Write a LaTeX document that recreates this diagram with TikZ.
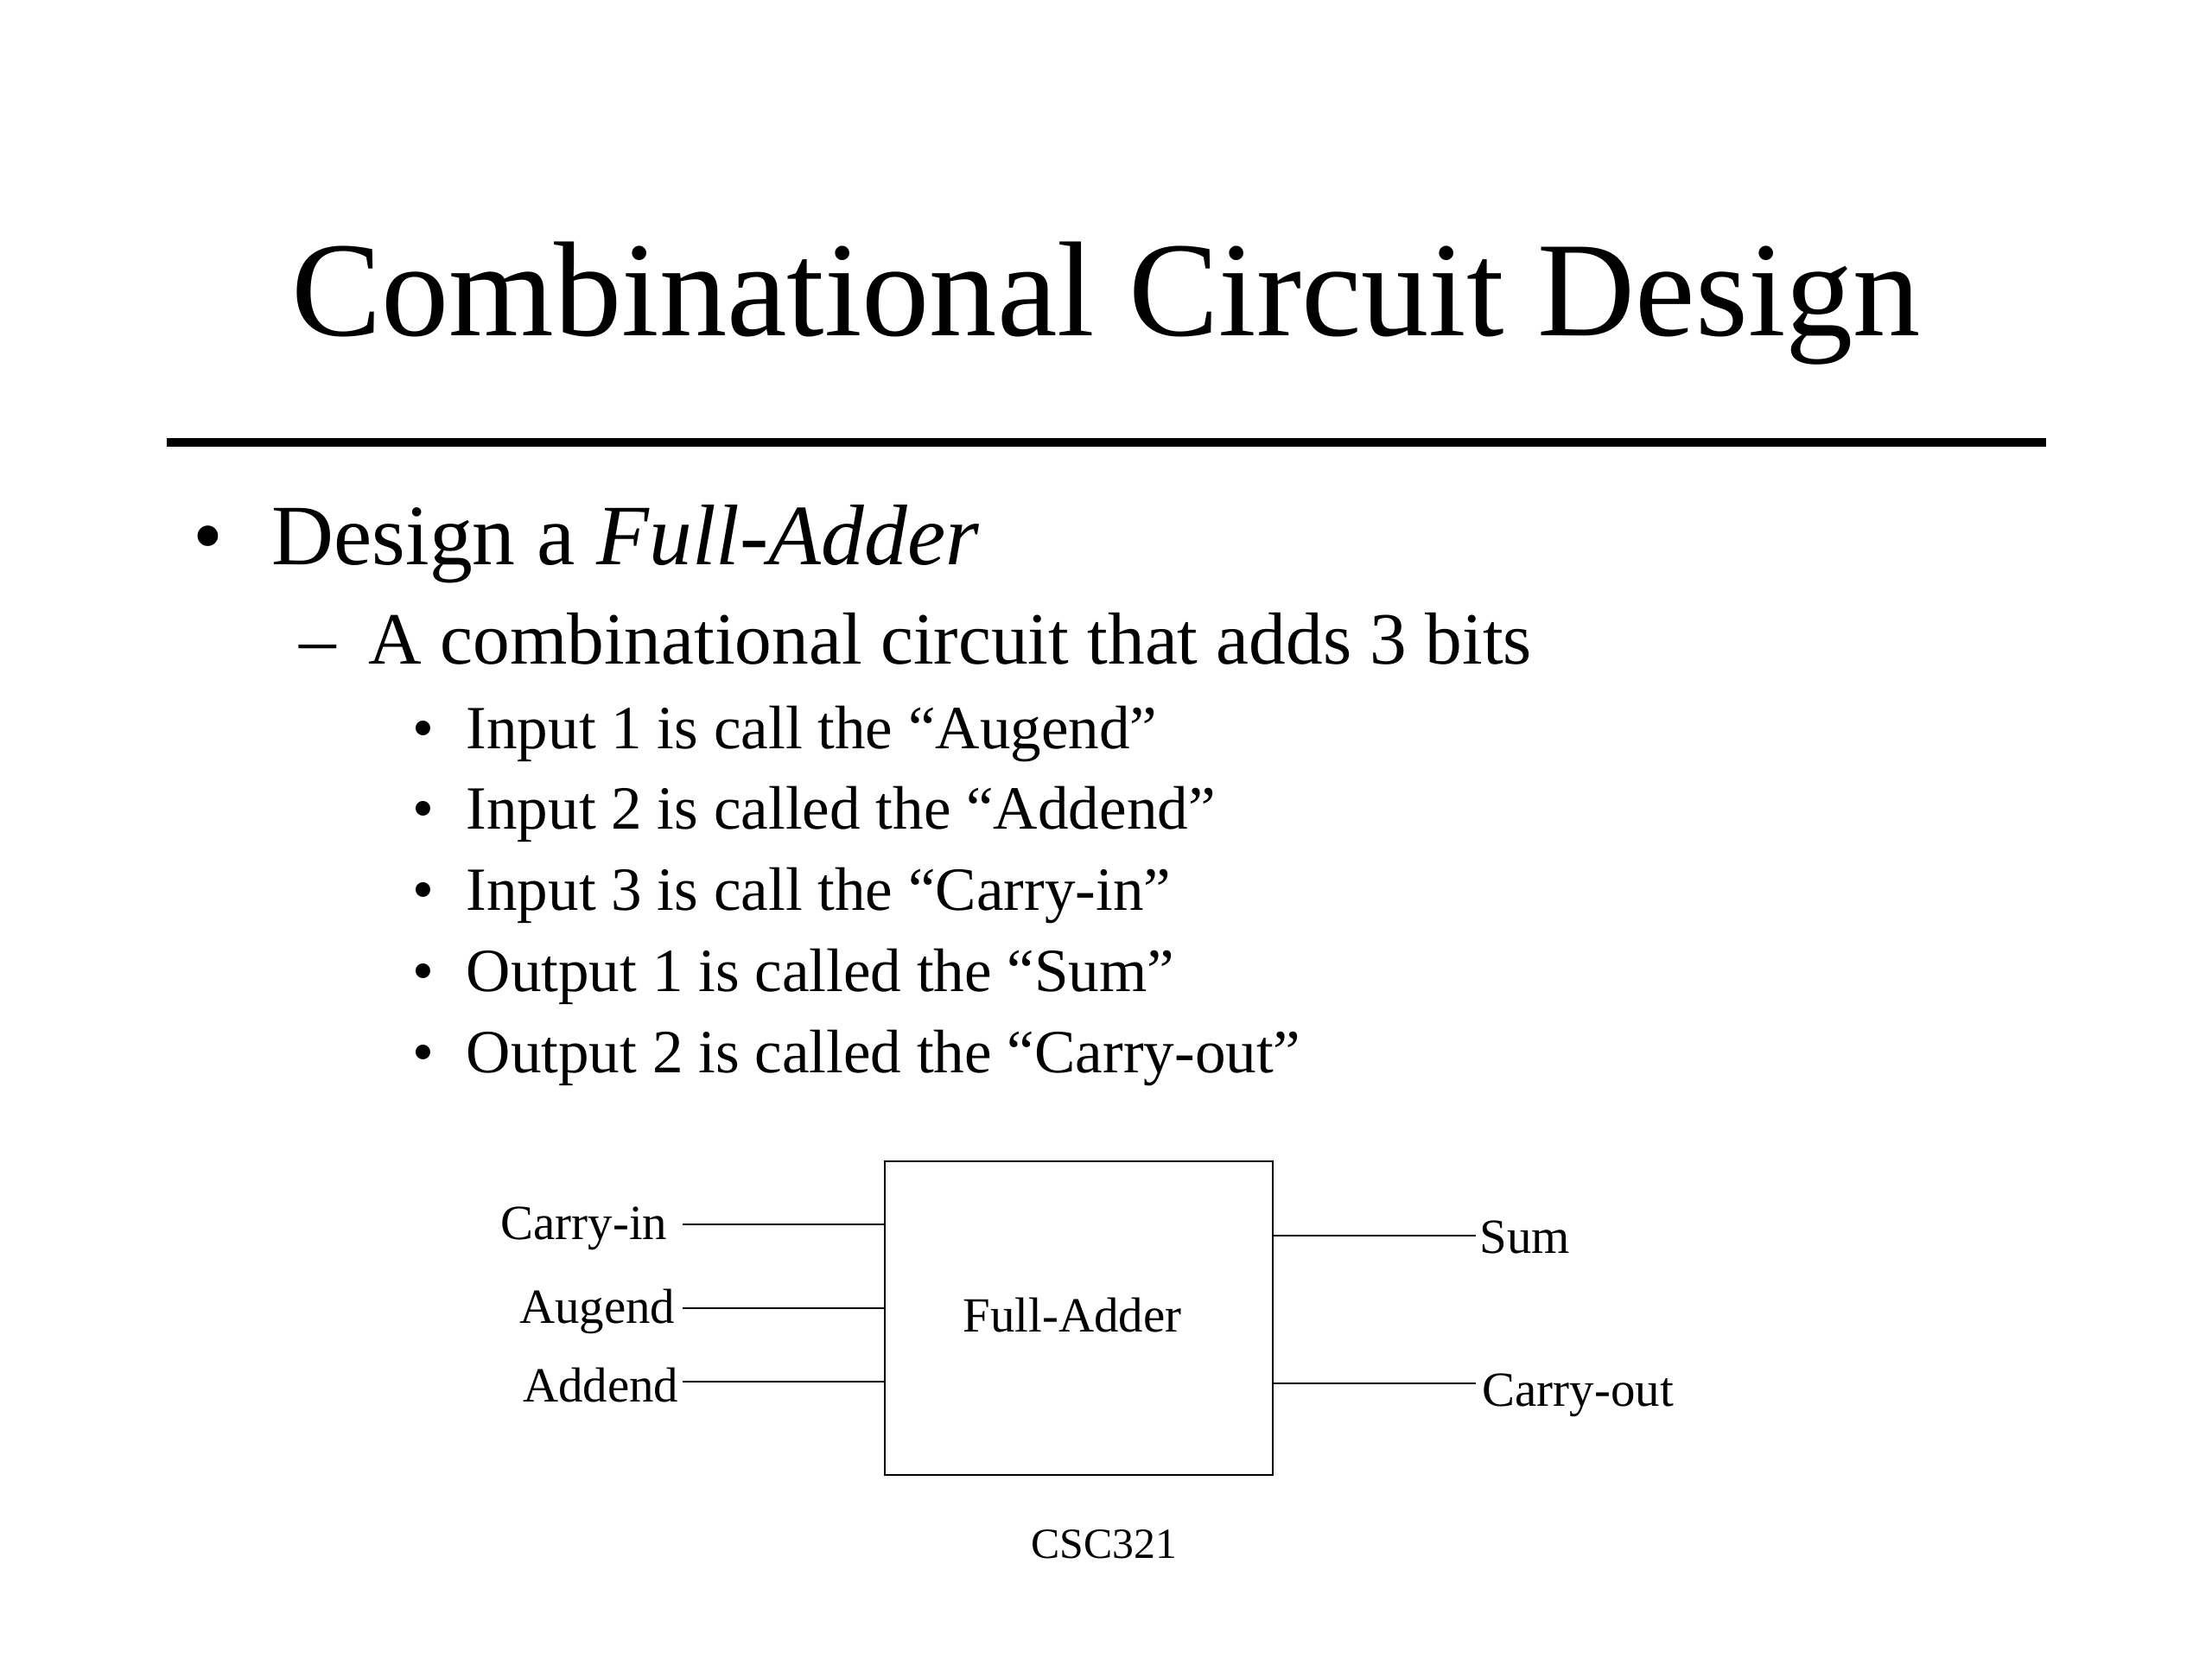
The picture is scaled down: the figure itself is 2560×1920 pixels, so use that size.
\documentclass[tikz,border=0pt]{standalone}
\usepackage{fontspec}
\setmainfont{Liberation Serif}
\begin{document}
\begin{tikzpicture}[x=0.2823pt,y=-0.2823pt,
    txt/.style={inner sep=0pt,anchor=base west},
    lbl/.style={inner sep=0pt,font=\fontsize{16bp}{19bp}\selectfont},
    wire/.style={line width=0.7pt}]
    \useasboundingbox (0,0) rectangle (2560,1920);
    % title and rule
    \node[inner sep=0pt,anchor=base,font=\fontsize{44bp}{53bp}\selectfont] (title) at (1280,388) {Combinational Circuit Design};
    \draw[line width=2.8pt] (193,512) -- (2368,512);
    % bullets
    \node[txt,font=\fontsize{28bp}{34bp}\selectfont] (b1) at (223,653) {•};
    \node[txt,font=\fontsize{28bp}{34bp}\selectfont] (l1) at (314,653) {Design a \textit{Full-Adder}};
    \node[txt,font=\fontsize{24bp}{29bp}\selectfont] (d2) at (346,768) {–};
    \node[txt,font=\fontsize{24bp}{29bp}\selectfont] (l2) at (426,768) {A combinational circuit that adds 3 bits};
    \foreach \t [count=\i] in {Input 1 is call the “Augend”,Input 2 is called the “Addend”,Input 3 is call the “Carry-in”,Output 1 is called the “Sum”,Output 2 is called the “Carry-out”} {
        \node[txt,font=\fontsize{20bp}{24bp}\selectfont] (b3\i) at (477,{866+93.75*(\i-1)}) {•};
        \node[txt,font=\fontsize{20bp}{24bp}\selectfont] (l3\i) at (539,{866+93.75*(\i-1)}) {\t};
    }
    % full adder block
    \node[draw,wire,minimum width=126.75pt,minimum height=102.47pt,inner sep=0pt] (fa) at (1248.5,1525.5) {};
    \node[lbl,anchor=base] (falbl) at (1241,1541) {Full-Adder};
    \foreach \name/\lab/\y/\ty/\tx in {cin/Carry-in/1417/1434/773,aug/Augend/1514/1531/782,add/Addend/1599/1622/786} {
        \node[lbl,anchor=base east] (\name) at (\tx,\ty) {\lab};
        \coordinate (w\name) at (790,\y);
        \draw[wire] (w\name) -- (w\name -| fa.west);
    }
    \foreach \name/\lab/\y/\ty/\tx in {sum/Sum/1430/1450/1712,cout/Carry-out/1601/1627/1715} {
        \coordinate (e\name) at (1708,\y);
        \draw[wire] (fa.east |- e\name) -- (e\name);
        \node[lbl,anchor=base west] (\name) at (\tx,\ty) {\lab};
    }
    \node[inner sep=0pt,anchor=base,font=\fontsize{14bp}{17bp}\selectfont] (footer) at (1278,1803) {CSC321};
\end{tikzpicture}
\end{document}
